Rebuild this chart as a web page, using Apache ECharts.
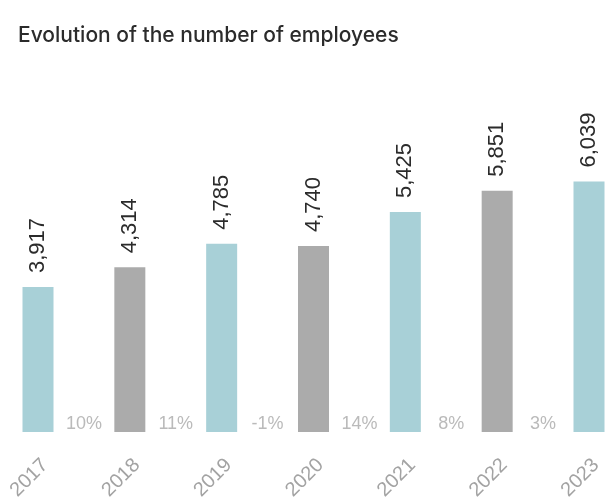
<!DOCTYPE html>
<html>
<head>
<meta charset="utf-8">
<title>Evolution of the number of employees</title>
<script src="https://cdn.jsdelivr.net/npm/echarts@6/dist/echarts.min.js"></script>
<style>
  html, body { margin: 0; padding: 0; background: #ffffff; }
  #chart { width: 611px; height: 499px; }
</style>
</head>
<body>
<div id="chart"></div>
<script>
// Headcount per year and year-on-year growth shown between the bars
const years = ['2017', '2018', '2019', '2020', '2021', '2022', '2023'];
const employees = [3917, 4314, 4785, 4740, 5425, 5851, 6039];
const growth = ['10%', '11%', '-1%', '14%', '8%', '3%'];

const barColors = ['#a8d0d7', '#ababab'];
const yMin = 1000;
const yMax = 8000;

const chart = echarts.init(document.getElementById('chart'), null, { renderer: 'canvas' });

chart.setOption({
  backgroundColor: '#ffffff',
  animation: false,
  textStyle: { fontFamily: 'Liberation Sans, Arial, sans-serif' },
  title: {
    text: 'Evolution of the number of employees',
    left: 18,
    top: 25,
    padding: 0,
    textStyle: { fontSize: 21, fontWeight: 500, color: '#2b2b2b', fontFamily: 'Inter, Liberation Sans, sans-serif' }
  },
  grid: { left: 38, right: 22, top: 84, bottom: 67, containLabel: false, outerBoundsMode: 'none' },
  xAxis: [
    {
      type: 'category',
      data: years,
      boundaryGap: false,
      axisLine: { show: false },
      axisTick: { show: false },
      axisLabel: {
        rotate: 45,
        margin: 23,
        verticalAlign: 'top',
        color: '#a3a3a3',
        fontSize: 20
      }
    },
    {
      // helper axis used to place the growth labels midway between years
      type: 'value',
      min: 0,
      max: years.length - 1,
      show: false
    }
  ],
  yAxis: {
    type: 'value',
    min: yMin,
    max: yMax,
    show: false,
    splitLine: { show: false }
  },
  series: [
    {
      type: 'bar',
      xAxisIndex: 0,
      barWidth: 31,
      data: employees.map((v, i) => ({ value: v, itemStyle: { color: barColors[i % 2] } })),
      label: {
        show: true,
        position: 'top',
        rotate: 90,
        align: 'left',
        verticalAlign: 'middle',
        distance: 14,
        fontSize: 22,
        color: '#2b2b2b',
        formatter: p => p.value.toLocaleString('en-US')
      }
    },
    {
      type: 'scatter',
      xAxisIndex: 1,
      symbolSize: 0,
      clip: false,
      silent: true,
      data: growth.map((g, i) => [i + 0.5, yMin, g]),
      label: {
        show: true,
        position: 'top',
        distance: -1,
        fontSize: 18,
        color: '#a9a9a9',
        formatter: p => p.value[2]
      }
    }
  ]
});
</script>
</body>
</html>
